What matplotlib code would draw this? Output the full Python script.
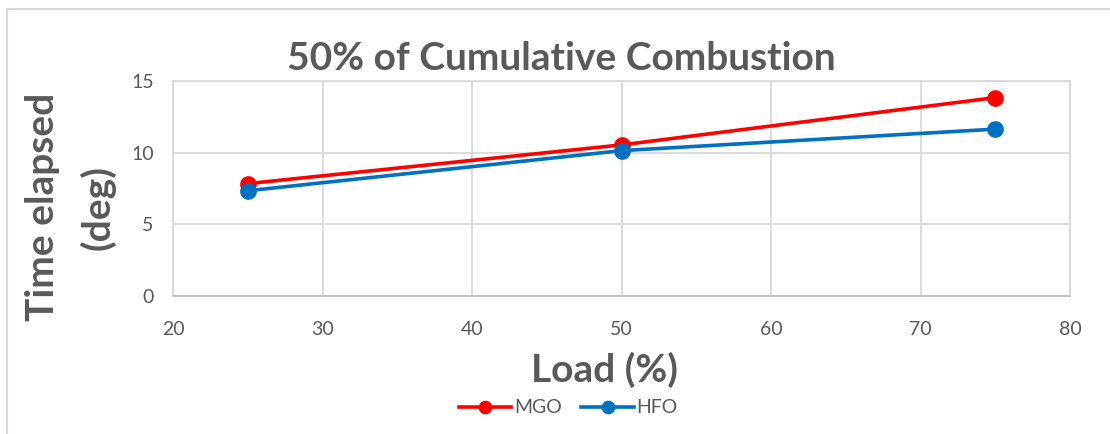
import matplotlib.pyplot as plt
from matplotlib.patches import Rectangle

load = [25, 50, 75]
mgo = [7.85, 10.55, 13.85]
hfo = [7.35, 10.15, 11.65]
x_ticks = [20, 30, 40, 50, 60, 70, 80]
y_ticks = [0, 5, 10, 15]

plt.rcParams['font.family'] = ['Lato', 'DejaVu Sans']
text_grey = '#595959'
grid_grey = '#d9d9d9'

fig = plt.figure(figsize=(11.1, 4.34), dpi=100)
ax = fig.add_axes([0.156, 0.318, 0.808, 0.495])

# chart border
fig.patches.append(Rectangle((7 / 1110, -0.05), 1.2, 1 - 9 / 434 + 0.05,
                             transform=fig.transFigure, fill=False,
                             edgecolor='#d9d9d9', linewidth=1.5))

ax.plot(load, mgo, color='#ff0000', lw=2.6, marker='o', ms=11, label='MGO', zorder=3)
ax.plot(load, hfo, color='#0070c0', lw=2.6, marker='o', ms=11, label='HFO', zorder=3)

ax.set_xlim(20, 80)
ax.set_ylim(0, 15)
ax.set_xticks(x_ticks)
ax.set_yticks(y_ticks)
ax.grid(True, color=grid_grey, lw=1.3)
ax.set_axisbelow(True)
for s in ax.spines.values():
    s.set_color(grid_grey)
    s.set_linewidth(1.3)
ax.spines['bottom'].set_color('#bfbfbf')
ax.tick_params(length=0, labelsize=14, colors=text_grey)
ax.tick_params(axis='x', pad=18)
ax.tick_params(axis='y', pad=14)

fig.text(0.506, 0.866, '50% of Cumulative Combustion', ha='center', va='center',
         fontsize=28, fontweight='bold', color=text_grey)
fig.text(0.545, 0.147, 'Load (%)', ha='center', va='center',
         fontsize=28, fontweight='bold', color=text_grey)
fig.text(0.038, 0.523, 'Time elapsed', rotation=90, ha='center', va='center',
         fontsize=28, fontweight='bold', color=text_grey)
fig.text(0.088, 0.523, '(deg)', rotation=90, ha='center', va='center',
         fontsize=28, fontweight='bold', color=text_grey)

fig.legend(loc='center', bbox_to_anchor=(0.512, 0.06), ncol=2, frameon=False,
           fontsize=14, labelcolor=text_grey, handlelength=2.7, handletextpad=0.15,
           columnspacing=1.0, markerscale=0.8)

fig.savefig('out.png', dpi=100)
